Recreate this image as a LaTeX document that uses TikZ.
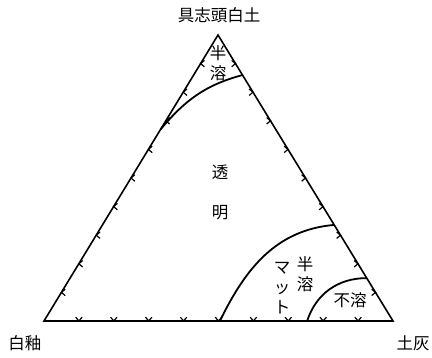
\documentclass[tikz,border=0pt]{standalone}
\usepackage{fontspec}
\newfontfamily\jpfont{Noto Sans CJK JP}
\begin{document}
\begin{tikzpicture}[x=1pt,y=1pt,
  side/.style={line width=1.6pt},
  bound/.style={line width=1.8pt},
  lbl/.style={font=\jpfont\fontsize{16.5}{20}\selectfont, inner sep=0pt, align=center}]
\useasboundingbox (0,0) rectangle (432,357);
\newcommand{\chev}[2]{
  \draw[line width=1.2pt] (#1) +(#2+40:5) -- (#1) -- +(#2-40:5);
}

% corners of the triangle
\coordinate (W) at (44,36);
\coordinate (S) at (218,322);
\coordinate (D) at (393,36);
\draw[side] (W) -- (S) -- (D) -- cycle;

% tick marks every tenth of a side
\foreach \k in {1,...,9} {
  \pgfmathsetmacro{\p}{\k/10}
  \path (W) -- (S) coordinate[pos=\p] (l\k);
  \path (S) -- (D) coordinate[pos=\p] (r\k);
  \path (D) -- (W) coordinate[pos=\p] (b\k);
  \chev{l\k}{0}
  \chev{r\k}{180}
  \chev{b\k}{90}
}

% region boundaries
\path (W) -- (S) coordinate[pos=.67] (ta);
\path (D) -- (S) coordinate[pos=.86] (tb);
\draw[bound] (ta) to[out=50,in=195] (tb);
\path (W) -- (D) coordinate[pos=.504] (ma);
\path (D) -- (S) coordinate[pos=.336] (mb);
\draw[bound] (ma) to[out=64,in=185] (mb);
\path (W) -- (D) coordinate[pos=.754] (na);
\path (D) -- (S) coordinate[pos=.15] (nb);
\draw[bound] (na) to[out=72,in=180] (nb);

% corner names
\node[lbl] (top) at (219,342) {具志頭白土};
\node[lbl] (left) at (25,14) {白釉};
\node[lbl] (right) at (413,14) {土灰};

% region names
\node[lbl] (semi) at (218,294) {半\\溶};
\node[lbl] (clear1) at (220,185) {透};
\node[lbl] (clear2) at (220,144) {明};
\node[lbl] (semi2) at (305,83) {半\\溶};
\node[lbl] (matt) at (282,69) {マ\\ッ\\ト};
\node[lbl] (insol) at (350,57) {不溶};
\end{tikzpicture}
\end{document}
